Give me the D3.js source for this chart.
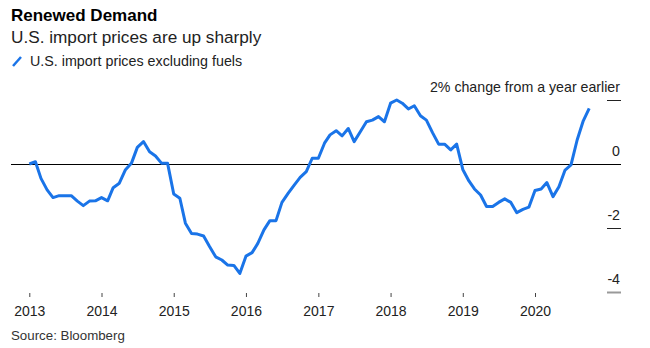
<!DOCTYPE html>
<html>
<head>
<meta charset="utf-8">
<script src="https://cdn.jsdelivr.net/npm/d3@7"></script>
<style>
  body { margin: 0; background: #fff; }
  text { font-family: "Liberation Sans", Arial, sans-serif; }
</style>
</head>
<body>
<div id="chart"></div>
<script>
// monthly import prices ex fuels, % change y/y
const y2013 = [0.0, 0.07, -0.45, -0.81, -1.05, -0.99, -0.99, -0.99, -1.16, -1.30, -1.16, -1.15];
const y2014 = [-1.05, -1.15, -0.74, -0.60, -0.19, 0.02, 0.52, 0.70, 0.38, 0.25, 0.02, 0.02];
const y2015 = [-0.94, -1.07, -1.85, -2.17, -2.19, -2.25, -2.58, -2.90, -3.0, -3.16, -3.17, -3.42];
const y2016 = [-2.88, -2.77, -2.48, -2.06, -1.77, -1.77, -1.20, -0.92, -0.66, -0.42, -0.24, 0.18];
const y2017 = [0.18, 0.65, 0.91, 1.04, 0.88, 1.11, 0.70, 1.01, 1.32, 1.37, 1.48, 1.32];
const y2018 = [1.90, 2.0, 1.90, 1.72, 1.82, 1.51, 1.37, 0.98, 0.62, 0.62, 0.44, 0.62];
const y2019 = [-0.17, -0.53, -0.78, -0.97, -1.33, -1.33, -1.20, -1.09, -1.20, -1.52, -1.42, -1.35];
const y2020 = [-0.83, -0.78, -0.58, -1.02, -0.71, -0.19, -0.03, 0.75, 1.35, 1.74];

const values = [].concat(y2013, y2014, y2015, y2016, y2017, y2018, y2019, y2020);

const xTicks = [2013, 2014, 2015, 2016, 2017, 2018, 2019, 2020];
const yTicks = [2, 0, -2, -4];
const yTickLabels = ["2% change from a year earlier", "0", "-2", "-4"];

const w = 650;
const h = 348;
const BLUE = "#1a74e8";

// one date per value, first of each month from Jan 2013
const dates = d3.timeMonth.range(new Date(2013, 0, 1), new Date(2013, values.length, 1));
const data = dates.map((d, i) => ({ date: d, value: values[i] }));

let svg = d3.select("#chart")
    .append("svg")
    .attr("width", w)
    .attr("height", h);

let x = d3.scaleTime()
    .domain([new Date(2013, 0, 1), new Date(2020, 0, 1)])
    .range([29.3, 535]);

let y = d3.scaleLinear()
    .domain([-4, 2])
    .range([292, 100]);

//title, subtitle and legend
svg.append("text")
    .attr("x", 11).attr("y", 21)
    .attr("font-size", 17).attr("font-weight", "bold")
    .attr("fill", "#000")
    .text("Renewed Demand");
svg.append("text")
    .attr("x", 11).attr("y", 43)
    .attr("font-size", 17.2)
    .attr("fill", "#222")
    .text("U.S. import prices are up sharply");
svg.append("line")
    .attr("x1", 13).attr("y1", 66).attr("x2", 21).attr("y2", 57)
    .attr("stroke", BLUE).attr("stroke-width", 2.5);
svg.append("text")
    .attr("x", 30).attr("y", 65.5)
    .attr("font-size", 14.3)
    .attr("fill", "#222")
    .text("U.S. import prices excluding fuels");

//y axis on the right: short tick lines with labels above them
svg.selectAll(".ytick")
    .data(yTicks)
    .enter()
    .append("line")
    .attr("class", "ytick")
    .attr("x1", 607).attr("x2", 621)
    .attr("y1", d => y(d) + 0.5).attr("y2", d => y(d) + 0.5)
    .attr("stroke", d => d == -4 ? "#999" : "#222")
    .attr("stroke-width", d => d == -4 ? 2 : 1);

svg.selectAll(".ylab")
    .data(yTicks)
    .enter()
    .append("text")
    .attr("class", "ylab")
    .attr("x", 620)
    .attr("y", d => y(d) - 8)
    .attr("text-anchor", "end")
    .attr("font-size", 14.2)
    .attr("fill", "#222")
    .text((d, i) => yTickLabels[i]);

//zero line
svg.append("line")
    .attr("x1", 11).attr("x2", 621)
    .attr("y1", y(0) + 0.5).attr("y2", y(0) + 0.5)
    .attr("stroke", "#000").attr("stroke-width", 1.3)
    .attr("shape-rendering", "crispEdges");

//x axis
const xAxis = d3.axisBottom(x)
    .tickValues(xTicks.map(t => new Date(t, 0, 1)))
    .tickFormat(d3.timeFormat("%Y"))
    .tickSize(4)
    .tickPadding(9);
let gx = svg.append("g")
    .attr("transform", "translate(0,293)")
    .call(xAxis);
gx.select(".domain").remove();
gx.selectAll("line").attr("stroke", "#444");
gx.selectAll("text")
    .attr("font-size", 14)
    .attr("font-family", "Liberation Sans, Arial, sans-serif")
    .attr("fill", "#222");

//the line
let line = d3.line()
    .x(d => x(d.date))
    .y(d => y(d.value));
svg.append("path")
    .datum(data)
    .attr("d", line)
    .attr("fill", "none")
    .attr("stroke", BLUE)
    .attr("stroke-width", 3)
    .attr("stroke-linejoin", "round");

//source
svg.append("text")
    .attr("x", 11).attr("y", 340)
    .attr("font-size", 13.3)
    .attr("fill", "#333")
    .text("Source: Bloomberg");
</script>
</body>
</html>
